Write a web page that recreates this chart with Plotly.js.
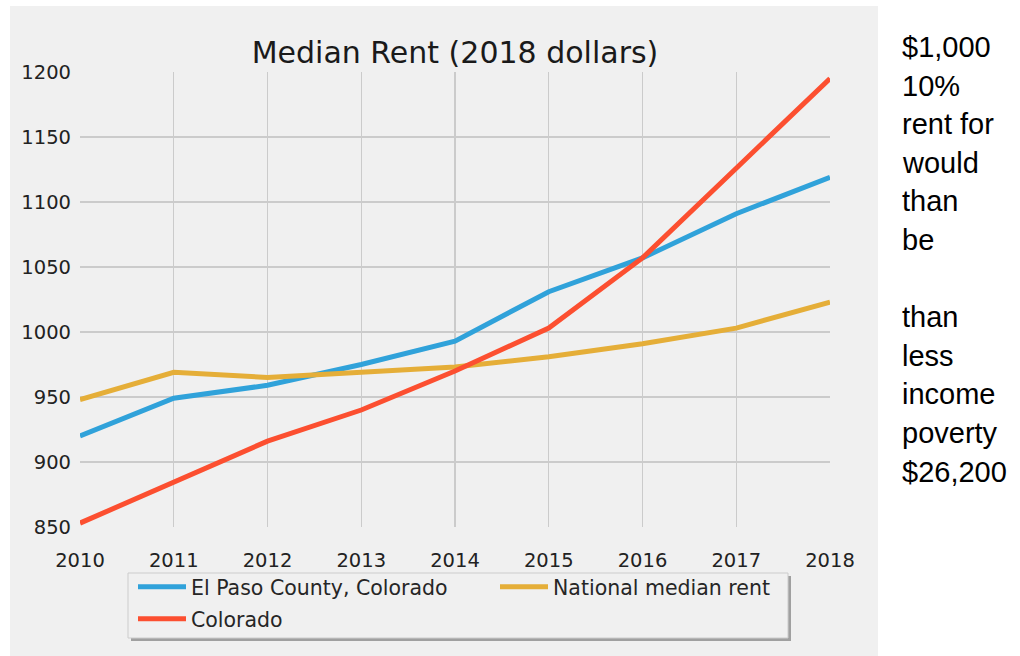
<!DOCTYPE html>
<html>
<head>
<meta charset="utf-8">
<script src="https://cdn.plot.ly/plotly-3.0.1.min.js"></script>
<style>html,body{margin:0;padding:0;background:#fff;}#chart{width:1020px;height:656px;}</style>
</head>
<body>
<div id="chart"></div>
<script>
var years = [2010, 2011, 2012, 2013, 2014, 2015, 2016, 2017, 2018];
var elPaso = [920, 949, 959, 975, 993, 1031, 1057, 1091, 1119];
var colorado = [853, 884, 916, 940, 970, 1003, 1057, 1126, 1195];
var national = [948, 969, 965, 969, 973, 981, 991, 1003, 1023];
var seriesNames = ['El Paso County, Colorado', 'Colorado', 'National median rent'];
var titleText = 'Median Rent (2018 dollars)';
var sideLines = ['$1,000', '10%', 'rent for', 'would', 'than', 'be', '', 'than', 'less', 'income', 'poverty', '$26,200'];

var W = 1020, H = 656;
var L = 80, R = 190, T = 72, B = 129;
var pw = W - L - R, ph = H - T - B;
function px(x) { return (x - L) / pw; }
function py(y) { return (H - B - y) / ph; }

var font = 'DejaVu Sans, sans-serif';
var traces = [
  {x: years, y: elPaso, name: seriesNames[0], mode: 'lines', line: {color: '#30a2da', width: 5}, legend: 'legend', legendrank: 1},
  {x: years, y: national, name: seriesNames[2], mode: 'lines', line: {color: '#e5ae38', width: 5}, legend: 'legend', legendrank: 2},
  {x: years, y: colorado, name: seriesNames[1], mode: 'lines', line: {color: '#fc4f30', width: 5}, legend: 'legend2'}
];

var annotations = [];
for (var i = 0; i < sideLines.length; i++) {
  if (!sideLines[i]) continue;
  annotations.push({
    text: sideLines[i], xref: 'paper', yref: 'paper',
    x: px(900), y: py(47 + i * 38.6), xanchor: 'left', yanchor: 'middle',
    showarrow: false, font: {family: 'Liberation Sans, Arial, sans-serif', size: 29, color: '#000'}
  });
}

var legFont = {family: font, size: 20.5, color: '#262626'};
var layout = {
  width: W, height: H,
  margin: {l: L, r: R, t: T, b: B, pad: 0},
  paper_bgcolor: '#ffffff',
  plot_bgcolor: '#f0f0f0',
  showlegend: true,
  font: {family: font, size: 20, color: '#222222'},
  title: {text: titleText, font: {family: font, size: 30, color: '#1a1a1a'},
          xref: 'paper', x: 0.5, xanchor: 'center', yref: 'container', y: 1 - 52 / H, yanchor: 'middle'},
  xaxis: {range: [2010, 2018], tickvals: years, ticktext: years.map(String), showgrid: true,
          gridcolor: '#cbcbcb', gridwidth: 1.2, zeroline: false, showline: false, ticks: '',
          ticklabelstandoff: 19, tickfont: {size: 19.5, color: '#222222'}},
  yaxis: {range: [850, 1200], dtick: 50, tick0: 850, showgrid: true, gridcolor: '#cbcbcb', gridwidth: 1.2,
          zeroline: false, showline: false, ticks: '', ticklabelstandoff: 8, tickfont: {size: 19.5, color: '#222222'}},
  legend: {orientation: 'h', x: px(133), y: py(567), xanchor: 'left', yanchor: 'top',
           bgcolor: 'rgba(0,0,0,0)', borderwidth: 0, font: legFont,
           entrywidth: 299, entrywidthmode: 'pixels', itemwidth: 48},
  legend2: {orientation: 'h', x: px(133), y: py(599), xanchor: 'left', yanchor: 'top',
           bgcolor: 'rgba(0,0,0,0)', borderwidth: 0, font: legFont, itemwidth: 48},
  shapes: [
    {type: 'rect', xref: 'paper', yref: 'paper', x0: px(10), x1: px(878), y0: py(656), y1: py(6),
     fillcolor: '#f0f0f0', line: {width: 0}, layer: 'below'},
    {type: 'rect', xref: 'paper', yref: 'paper', x0: px(131), x1: px(791), y0: py(641), y1: py(576),
     fillcolor: '#a0a0a0', line: {width: 0}, layer: 'above'},
    {type: 'rect', xref: 'paper', yref: 'paper', x0: px(128), x1: px(788), y0: py(638), y1: py(573),
     fillcolor: '#f0f0f0', line: {width: 1, color: '#cccccc'}, layer: 'above'}
  ],
  annotations: annotations
};

Plotly.newPlot('chart', traces, layout, {displayModeBar: false, staticPlot: true});
</script>
</body>
</html>
